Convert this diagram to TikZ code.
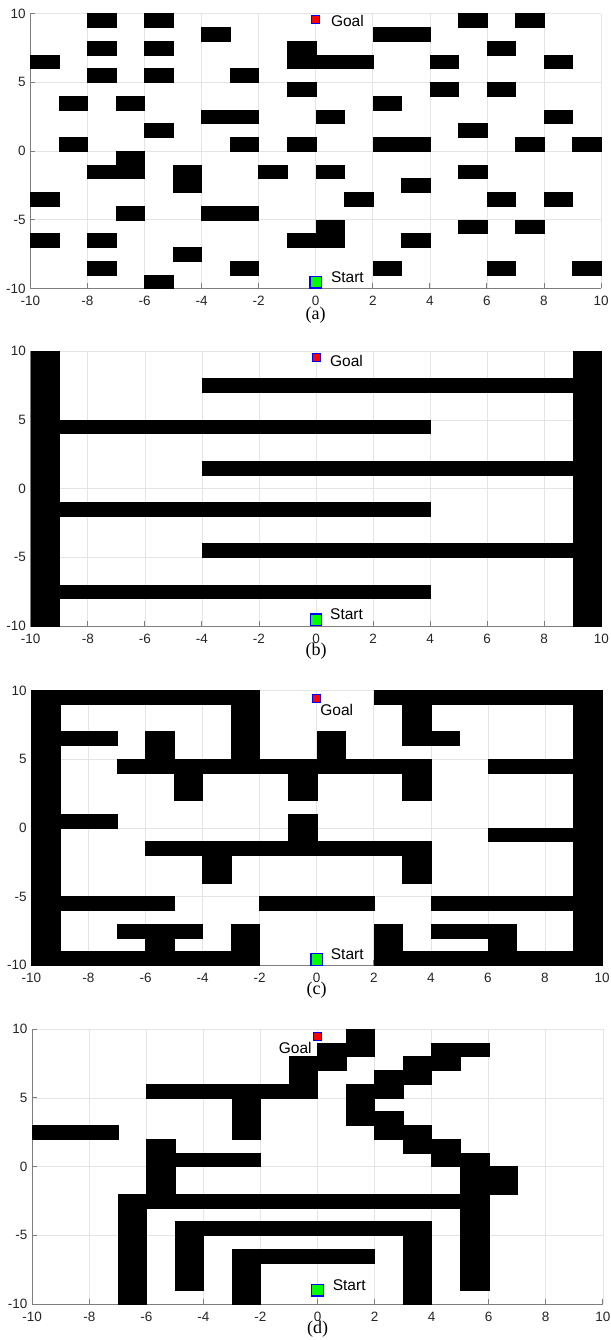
\documentclass[tikz,border=0pt]{standalone}
\usepackage{fontspec}
\setmainfont{Liberation Sans}
\newfontfamily\capfont{Liberation Serif}
\definecolor{gridc}{RGB}{228,228,228}
\definecolor{axisc}{RGB}{125,125,125}
\definecolor{tickc}{RGB}{38,38,38}
\definecolor{startgreen}{RGB}{0,255,0}
\definecolor{mblue}{RGB}{0,0,255}
\tikzset{
  gridline/.style={draw=gridc, line width=0.6pt},
  axisline/.style={draw=axisc, line width=0.8pt},
  obst/.style={fill=black, draw=black, line width=0.3pt},
  ticklab/.style={font=\fontsize{13.5}{15}\selectfont, text=tickc, inner sep=0pt},
  maplab/.style={font=\fontsize{15.5}{17}\selectfont, text=black, inner sep=0pt},
  caplab/.style={font=\capfont\fontsize{18}{20}\selectfont, text=black, inner sep=0pt},
  goalmark/.style={fill=red, draw=mblue, line width=1pt, minimum size=8pt, inner sep=0pt},
  startmark/.style={fill=startgreen, draw=mblue, line width=1.2pt, minimum size=11.5pt, inner sep=0pt}
}
\newcommand\mapaxes[1]{%
  \foreach \gx in {-8,-6,...,10} \draw[gridline] (\gx,-10) -- (\gx,10);
  \foreach \gy in {-5,0,5,10} \draw[gridline] (-10,\gy) -- (10,\gy);
  \draw[axisline] (-10,10) -- (-10,-10) -- (10,-10);
  \foreach \gx in {-10,-8,...,10} {%
    \draw[axisline] (\gx,-10) -- ++(0pt,5pt);
    \node[ticklab] (#1xt\gx) at ([yshift=-12.5pt]\gx,-10) {\gx};}
  \foreach \gy in {-10,-5,0,5,10} {%
    \draw[axisline] (-10,\gy) -- ++(5pt,0pt);
    \node[ticklab, anchor=east] (#1yt\gy) at ([xshift=-4.5pt]-10,\gy) {\gy};}
}
\begin{document}
\begin{tikzpicture}[x=1pt,y=1pt]
\fill[white] (0,0) rectangle (610,-1340);
\useasboundingbox (0,0) rectangle (610,-1340);

% ---------------- (a) ----------------
\begin{scope}[shift={(315.7pt,-151pt)}, x=28.53pt, y=13.74pt]
  \mapaxes{a}
  \foreach \cx/\cy in {-8/9,-6/9,5/9,7/9,
    -4/8,2/8,3/8,
    -8/7,-6/7,-1/7,6/7,
    -10/6,-1/6,0/6,1/6,4/6,8/6,
    -8/5,-6/5,-3/5,
    -1/4,4/4,6/4,
    -9/3,-7/3,2/3,
    -4/2,-3/2,0/2,8/2,
    -6/1,5/1,
    -9/0,-3/0,-1/0,2/0,3/0,7/0,9/0,
    -7/-1,
    -8/-2,-7/-2,-5/-2,-2/-2,0/-2,5/-2,
    -5/-3,3/-3,
    -10/-4,1/-4,6/-4,8/-4,
    -7/-5,-4/-5,-3/-5,
    0/-6,5/-6,7/-6,
    -10/-7,-8/-7,-1/-7,0/-7,3/-7,
    -5/-8,
    -8/-9,-3/-9,2/-9,6/-9,9/-9,
    -6/-10}
    \path[obst] (\cx,\cy) rectangle ++(1,1);
  \node[goalmark] (agoal) at (0,9.55) {};
  \node[startmark] (astart) at (0,-9.55) {};
  \node[maplab, anchor=west] (agoallab) at (0.53,9.46) {Goal};
  \node[maplab, anchor=west] (astartlab) at (0.53,-9.15) {Start};
  \node[caplab] (acap) at ([yshift=-27pt]0,-10) {(a)};
\end{scope}

% ---------------- (b) ----------------
\begin{scope}[shift={(316pt,-488.5pt)}, x=28.53pt, y=13.74pt]
  \mapaxes{b}
  \foreach \xa/\ya/\xb/\yb in {-10/-10/-9/10, 9/-10/10/10,
    -4/7/9/8, -9/4/4/5, -4/1/9/2, -9/-2/4/-1, -4/-5/9/-4, -9/-8/4/-7}
    \path[obst] (\xa,\ya) rectangle (\xb,\yb);
  \node[goalmark] (bgoal) at (0,9.55) {};
  \node[startmark] (bstart) at (0,-9.55) {};
  \node[maplab, anchor=west] (bgoallab) at (0.49,9.28) {Goal};
  \node[maplab, anchor=west] (bstartlab) at (0.49,-9.16) {Start};
  \node[caplab] (bcap) at ([yshift=-25pt]0,-10) {(b)};
\end{scope}

% ---------------- (c) ----------------
\begin{scope}[shift={(316.7pt,-827.8pt)}, x=28.53pt, y=13.74pt]
  \mapaxes{c}
  \foreach \xa/\ya/\xb/\yb in {-10/-10/-9/10, -10/9/-2/10, -3/5/-2/10,
    -9/6/-7/7, -6/5/-5/7, -7/4/4/5, 0/5/1/7, -5/2/-4/4, -1/2/0/4, 3/2/4/4,
    -9/0/-7/1, -1/-1/0/1, -6/-2/4/-1, -4/-4/-3/-2, 3/-4/4/-2,
    -9/-6/-5/-5, -2/-6/2/-5, 4/-6/9/-5,
    -7/-8/-4/-7, -6/-9/-5/-8, -3/-9/-2/-7, -10/-10/-2/-9,
    2/-10/3/-7, 4/-8/7/-7, 6/-9/7/-8, 2/-10/10/-9,
    9/-10/10/10, 2/9/10/10, 3/6/4/9, 4/6/5/7, 6/4/9/5, 6/-1/9/0}
    \path[obst] (\xa,\ya) rectangle (\xb,\yb);
  \node[goalmark] (cgoal) at (0,9.42) {};
  \node[startmark] (cstart) at (0,-9.58) {};
  \node[maplab, anchor=west] (cgoallab) at (0.12,8.61) {Goal};
  \node[maplab, anchor=west] (cstartlab) at (0.49,-9.18) {Start};
  \node[caplab] (ccap) at ([yshift=-25pt]0,-10) {(c)};
\end{scope}

% ---------------- (d) ----------------
\begin{scope}[shift={(317.5pt,-1166.5pt)}, x=28.53pt, y=13.74pt]
  \mapaxes{d}
  \foreach \xa/\ya/\xb/\yb in {-10/2/-7/3, -6/5/0/6, -1/5/0/8, -1/7/1/8,
    0/8/2/9, 1/8/2/10, -3/2/-2/5, -6/-2/-5/2, -5/0/-2/1,
    -7/-3/6/-2, -7/-10/-6/-2, -5/-5/4/-4, -5/-9/-4/-4, 3/-10/4/-4,
    -3/-7/2/-6, -3/-10/-2/-6,
    4/8/6/9, 3/7/5/8, 2/6/4/7, 1/5/3/6, 1/3/2/5, 2/2/3/4, 3/1/4/3,
    4/0/5/2, 5/-9/6/1, 6/-2/7/0}
    \path[obst] (\xa,\ya) rectangle (\xb,\yb);
  \node[goalmark] (dgoal) at (0,9.45) {};
  \node[startmark] (dstart) at (0,-9.0) {};
  \node[maplab, anchor=east] (dgoallab) at (-0.2,8.66) {Goal};
  \node[maplab, anchor=west] (dstartlab) at (0.53,-8.62) {Start};
  \node[caplab] (dcap) at ([yshift=-25.5pt]0,-10) {(d)};
\end{scope}
\end{tikzpicture}
\end{document}
